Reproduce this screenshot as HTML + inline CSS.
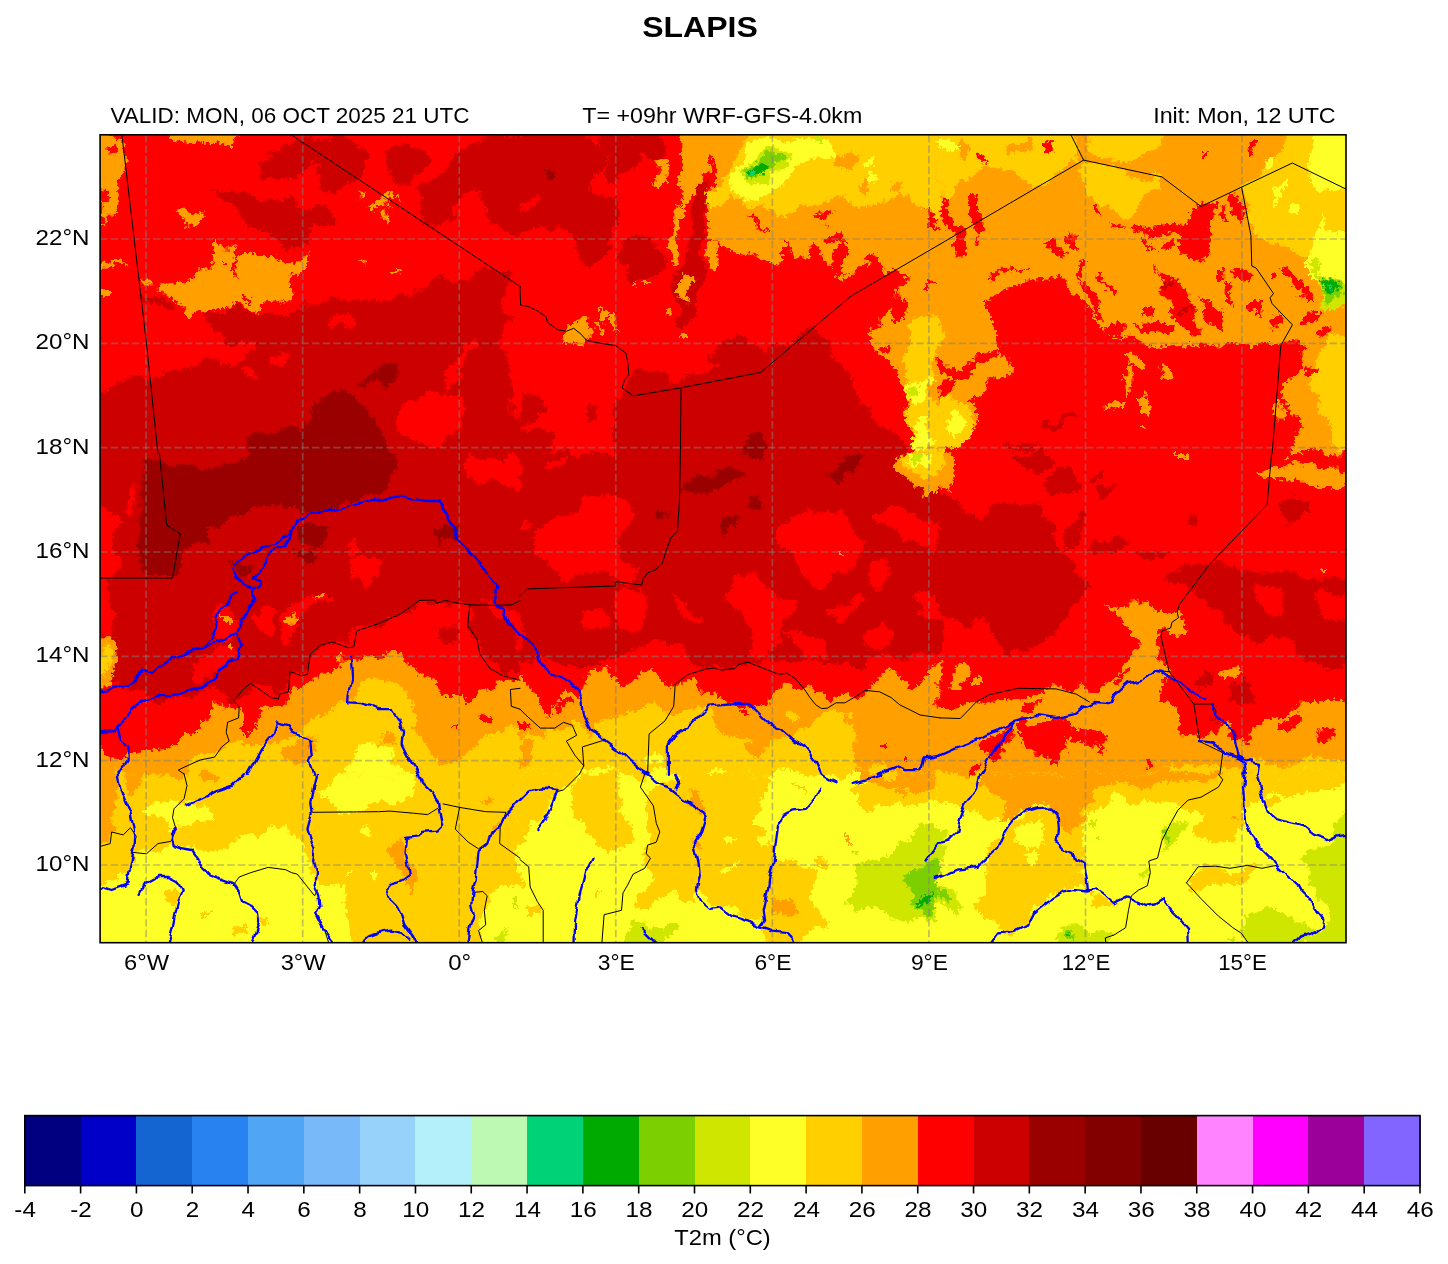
<!DOCTYPE html>
<html lang="en">
<head>
<meta charset="utf-8">
<title>SLAPIS - T2m forecast</title>
<style>
html,body{margin:0;padding:0;background:#fff;}
body{width:1448px;height:1264px;overflow:hidden;font-family:"Liberation Sans",sans-serif;}
svg{display:block;}
svg text{font-family:"Liberation Sans",sans-serif;fill:#000;}
</style>
</head>
<body>
<svg width="1448" height="1264" viewBox="0 0 1448 1264">
<rect x="0" y="0" width="1448" height="1264" fill="#ffffff"/>
<defs>
<filter id="rough" filterUnits="userSpaceOnUse" x="70" y="104" width="1306" height="869" color-interpolation-filters="sRGB">
<feTurbulence type="fractalNoise" baseFrequency="0.04" numOctaves="3" seed="7" result="n"/>
<feDisplacementMap in="SourceGraphic" in2="n" scale="24" xChannelSelector="R" yChannelSelector="G" result="d1"/>
<feTurbulence type="fractalNoise" baseFrequency="0.3" numOctaves="1" seed="11" result="n2"/>
<feDisplacementMap in="d1" in2="n2" scale="9" xChannelSelector="G" yChannelSelector="R"/>
</filter>
<filter id="wig" filterUnits="userSpaceOnUse" x="70" y="104" width="1306" height="869" color-interpolation-filters="sRGB">
<feTurbulence type="fractalNoise" baseFrequency="0.09" numOctaves="1" seed="5" result="n"/>
<feDisplacementMap in="SourceGraphic" in2="n" scale="8" xChannelSelector="R" yChannelSelector="G"/>
</filter>
<clipPath id="ax"><rect x="100.1" y="134.8" width="1245.9" height="807.9"/></clipPath></defs>

<g clip-path="url(#ax)">
<g filter="url(#rough)">
<rect x="70" y="104" width="1306" height="869" fill="#ff0000"/>
<clipPath id="t0"><rect x="79.7" y="113.7" width="440.6" height="340.6"/></clipPath>
<g clip-path="url(#t0)">
<path fill="#cd0000" d="M261 162L274 151L286 146L303 143L320 140L341 138L361 146L367 160L361 175L347 189L341 195L329 188L320 169L309 164L300 178L291 185L274 182L262 175ZM212 191L231 188L251 196L274 199L297 204L315 207L332 215L326 227L309 233L300 246L286 250L274 241L262 233L248 230L245 218L236 208L222 199ZM396 146L407 141L422 151L423 166L413 180L402 186L390 175L386 160ZM419 189L442 172L460 151L477 138L523 135L523 236L506 233L492 221L486 204L477 192L463 201L448 221L434 230L416 218L419 201ZM138 296L158 296L175 305L178 311L158 308L141 302ZM204 308L222 311L242 311L258 314L303 305L323 301L370 301L390 295L416 296L422 285L442 279L471 273L492 270L512 273L506 291L497 308L510 320L500 345L515 380L505 400L520 415L523 457L80 457L80 395L109 389L129 381L158 375L173 369L222 363L245 357L257 343L239 346L225 344L213 334L207 320Z"/>
<path fill="#ff0000" d="M271 354L286 350L290 357L280 365L272 362ZM245 363L254 362L256 372L249 378L244 372ZM329 323L341 320L361 320L358 324L332 329ZM402 404L416 395L436 392L457 395L465 412L463 430L448 444L425 447L407 439L396 424ZM442 375L465 349L474 334L477 343L457 375L442 389Z"/>
<path fill="#9b0000" d="M357 381L373 373L387 366L397 362L399 375L390 383L378 386L370 381L361 385ZM315 400L332 392L347 388L361 409L378 421L390 450L393 457L248 457L245 453L248 447L251 432L274 435L289 426L303 432L315 418Z"/>
<path fill="#ff9f00" d="M80 114L122 136L123 151L121 172L117 189L112 207L110 227L106 221L103 192L80 183ZM164 114L248 114L236 140L213 142L187 144L173 142ZM178 212L187 210L193 214L200 212L205 217L199 224L187 227L180 223ZM155 288L184 283L196 275L209 269L208 259L212 241L219 249L232 250L236 259L245 253L268 253L270 262L286 265L309 259L300 273L293 279L291 291L277 299L262 305L254 312L239 308L222 310L213 304L202 308L191 313L178 304L167 296ZM80 262L117 263L129 268L117 268L80 270ZM138 276L146 277L152 283L144 280ZM80 282L104 282L104 294L80 294ZM355 196L363 192L363 198ZM383 210L389 209L387 217ZM371 204L399 194L402 202L397 198L376 207ZM355 266L361 268L360 272ZM396 267L402 267L402 272L396 271Z"/>
<path fill="#ff0000" d="M108 143L117 141L118 151L112 152ZM222 262L225 262L225 267L222 267ZM233 262L240 259L241 273L236 270ZM216 304L223 304L223 309L216 309ZM244 300L252 300L252 305L244 305Z"/>
</g>
<clipPath id="t1"><rect x="519.7" y="113.7" width="420.6" height="340.6"/></clipPath>
<g clip-path="url(#t1)">
<path fill="#cd0000" d="M519 114L561 114L593 137L607 151L604 169L590 178L572 183L561 195L546 204L532 201L519 204ZM572 201L595 192L616 195L622 209L616 224L607 233L610 250L595 262L581 253L572 238L564 221ZM519 209L537 212L549 230L532 233L519 230ZM633 137L648 114L665 140L664 160L656 166L645 160L636 151ZM619 244L636 238L656 244L665 256L662 273L648 279L630 279L624 265ZM694 186L706 178L709 207L706 230L700 250L706 270L700 291L691 308L682 325L671 323L677 296L674 279L682 259L691 236L694 209ZM616 395L622 386L630 378L642 369L659 372L671 381L682 378L706 372L723 363L740 366L761 354L775 343L793 337L810 331L827 343L839 360L856 381L868 404L880 424L897 436L912 457L616 457ZM709 349L729 343L740 337L761 346L767 354L752 366L729 366L711 360ZM519 389L532 395L549 410L537 424L519 427ZM584 410L595 407L598 418L587 421ZM520 436L537 433L555 441L549 457L520 457ZM590 114L633 137L636 151L630 169L616 180L607 169L607 151ZM546 204L572 183L590 178L595 192L572 201L564 221L549 230L537 212Z"/>
<path fill="#9b0000" d="M743 439L761 436L769 441L769 457L743 457ZM546 169L555 169L555 178L546 178Z"/>
<path fill="#ff9f00" d="M685 114L943 114L943 457L912 457L914 436L912 412L909 389L897 375L883 363L874 349L868 337L874 320L885 308L897 296L906 279L897 270L885 270L874 262L865 267L854 270L848 279L839 270L825 262L810 256L793 259L775 262L761 250L746 256L729 250L711 244L711 230L713 215L709 201L711 186L713 160L709 157L701 178L694 192L682 209L674 209L678 201L682 178L687 157ZM674 209L682 212L680 230L677 250L671 270L668 259L672 236ZM682 270L694 273L691 291L685 305L682 291ZM662 305L668 308L666 320L662 317ZM706 247L714 244L717 259L711 270L707 262ZM656 163L665 160L666 178L659 180ZM569 323L587 320L590 334L581 343L571 337ZM601 308L607 308L607 320L601 320ZM610 311L614 311L616 331L610 328ZM595 325L600 323L601 337L596 337ZM684 330L691 330L691 336L684 336ZM630 280L636 280L636 285L630 285ZM648 282L655 282L655 286L648 286Z"/>
<path fill="#ff0000" d="M816 218L833 212L827 224L819 222ZM819 233L833 230L836 244L825 241ZM920 189L926 186L929 209L938 221L943 227L932 224L923 215L919 201ZM891 296L909 299L906 320L894 320ZM920 285L929 286L929 292L920 292ZM868 320L883 314L885 325L874 334ZM880 349L894 343L897 354L885 360ZM781 244L790 250L793 262L781 262ZM810 241L819 244L825 262L813 262ZM833 244L845 250L851 273L836 270ZM865 256L875 257L872 267L864 269ZM751 218L756 221L761 230L771 228L771 234L755 231Z"/>
<path fill="#ffcf00" d="M706 192L723 186L732 163L740 146L752 114L943 114L943 218L929 215L920 207L912 192L897 198L883 207L862 204L839 201L822 204L804 209L787 218L775 218L767 209L752 209L740 204L729 201L717 204L709 201ZM906 334L920 320L938 317L939 360L930 366L930 400L943 404L943 457L912 457L909 424L912 395L906 366Z"/>
<path fill="#ff9f00" d="M836 151L854 154L851 169L838 167ZM891 180L906 182L904 193L892 192ZM862 180L871 182L871 192L862 191Z"/>
<path fill="#ffff28" d="M730 186L736 166L743 151L752 140L769 135L790 135L810 140L839 143L836 151L816 157L798 166L781 180L769 192L758 198L743 201L732 198ZM862 160L871 157L874 166L865 169ZM909 383L920 378L929 386L926 401L914 404ZM912 424L926 418L932 436L920 453L912 447ZM868 172L877 175L875 183L868 182Z"/>
<path fill="#cfe700" d="M740 166L752 157L769 149L787 146L796 151L787 163L772 175L758 183L746 180ZM810 138L827 137L827 144L813 144ZM912 386L923 383L923 392L913 394Z"/>
<path fill="#7ccf00" d="M743 169L755 162L772 153L787 151L781 162L769 170L758 178L748 178Z"/>
<path fill="#00aa00" d="M746 169L761 164L769 166L767 173L752 177Z"/>
<path fill="#00d278" d="M749 169L752 169L752 176L749 175Z"/>
</g>
<clipPath id="t2"><rect x="939.7" y="113.7" width="460.6" height="340.6"/></clipPath>
<g clip-path="url(#t2)">
<path fill="#ff9f00" d="M939 114L1366 114L1366 457L1285 457L1291 441L1303 424L1297 421L1282 401L1285 383L1297 375L1305 360L1303 346L1279 343L1259 343L1242 346L1216 344L1187 343L1166 349L1143 343L1126 337L1102 334L1097 323L1091 308L1082 296L1071 282L1056 279L1036 282L1007 288L992 296L992 320L995 337L998 349L1010 366L998 381L981 389L969 401L978 412L975 433L957 444L939 441Z"/>
<path fill="#ff0000" d="M939 363L957 366L975 357L992 349L998 354L978 369L957 378L939 375ZM939 383L955 381L952 395L939 404ZM972 154L986 153L989 162L978 164ZM1040 143L1052 140L1053 151L1044 157ZM941 192L949 201L955 221L963 250L957 256L949 241L943 221ZM966 195L978 192L986 209L985 236L978 247L972 230L969 209ZM981 273L998 269L1033 265L1033 267L998 273L984 278ZM1047 241L1056 238L1062 256L1056 262L1050 250ZM1068 236L1076 233L1079 250L1073 251ZM1076 262L1082 263L1085 279L1079 276ZM1085 279L1091 282L1102 305L1108 317L1102 320L1094 305L1086 291ZM1094 270L1098 270L1111 296L1107 299ZM1114 221L1120 224L1126 233L1120 231ZM1088 207L1094 209L1097 221L1091 218ZM1129 230L1143 227L1172 224L1189 218L1201 207L1213 204L1216 221L1210 238L1207 253L1195 262L1187 259L1181 247L1178 236L1160 233L1143 234L1131 236ZM1143 241L1155 240L1156 249L1144 249ZM1163 241L1172 240L1173 250L1165 250ZM1230 196L1236 196L1242 218L1236 221L1231 209ZM1218 204L1223 204L1227 221L1223 221ZM1155 265L1163 270L1172 282L1181 291L1187 305L1178 308L1166 296L1158 282ZM1140 311L1155 314L1155 320L1140 317ZM1175 308L1187 305L1195 314L1198 334L1189 337L1181 325ZM1201 296L1213 299L1218 314L1224 331L1216 334L1207 320ZM1224 285L1230 285L1233 302L1227 302ZM1233 273L1242 270L1253 273L1245 282L1236 285ZM1247 305L1256 305L1258 314L1249 314ZM1268 320L1276 308L1282 314L1274 331ZM1282 266L1288 267L1305 291L1311 305L1305 305L1294 288ZM1271 273L1278 275L1276 282L1271 280ZM1303 320L1317 311L1329 311L1314 323L1304 325ZM1314 334L1326 328L1329 334L1317 340ZM1247 140L1255 140L1253 154L1249 154ZM1202 156L1207 156L1207 163L1202 163ZM1308 360L1317 363L1317 375L1310 375ZM1102 325L1114 320L1126 325L1120 334L1105 334ZM1131 325L1149 323L1172 323L1169 331L1143 334ZM1218 267L1224 267L1223 279L1218 279Z"/>
<path fill="#cd0000" d="M1160 279L1169 280L1168 288L1160 286ZM1184 308L1189 308L1189 315L1184 315ZM1042 427L1056 421L1076 410L1079 414L1062 424L1044 431ZM1007 444L1027 446L1044 449L1027 452L1007 449Z"/>
<path fill="#ffcf00" d="M939 114L1071 114L1079 151L1082 160L1065 169L1050 180L1033 183L1015 178L1004 166L984 169L969 178L957 178L952 192L946 202L939 204ZM1085 163L1102 166L1126 172L1143 178L1160 178L1149 192L1137 207L1126 215L1114 204L1102 209L1091 204L1085 186ZM1079 114L1160 114L1155 146L1143 157L1126 163L1108 160L1091 151ZM1242 189L1256 180L1271 163L1282 151L1294 114L1366 114L1366 273L1334 270L1317 262L1305 256L1288 250L1271 244L1256 238L1250 221ZM939 401L952 398L966 410L975 427L972 439L957 446L939 444ZM1326 337L1366 331L1366 457L1340 457L1329 424L1317 395L1314 372L1320 354Z"/>
<path fill="#ff9f00" d="M1126 354L1131 352L1143 366L1140 375L1129 366ZM1126 372L1130 372L1131 395L1127 395ZM1140 392L1149 389L1146 410L1140 412ZM1102 412L1114 407L1126 405L1120 415L1105 420ZM1163 369L1169 367L1172 378L1165 381ZM1133 427L1143 424L1140 431ZM1274 404L1279 401L1285 412L1276 421ZM952 143L966 140L969 151L957 157ZM1007 140L1027 137L1030 149L1013 154Z"/>
<path fill="#ff0000" d="M1040 143L1052 140L1053 151L1044 157ZM972 154L986 153L989 162L978 164Z"/>
<path fill="#ffff28" d="M1313 114L1366 114L1366 285L1340 296L1329 302L1317 296L1308 279L1303 262L1311 250L1317 230L1320 209L1314 192L1308 172ZM1268 160L1276 157L1276 172L1268 175ZM1274 186L1285 180L1285 198L1274 207ZM1294 207L1303 204L1303 215L1294 217ZM946 410L957 412L963 424L955 430L946 424ZM939 140L952 138L955 149L943 151L939 150Z"/>
<path fill="#ffcf00" d="M1317 192L1366 189L1366 227L1329 230L1318 215Z"/>
<path fill="#cfe700" d="M1308 259L1317 256L1320 270L1314 276L1326 279L1340 288L1366 285L1366 305L1329 305L1314 296L1313 279Z"/>
<path fill="#7ccf00" d="M1316 282L1323 279L1334 285L1337 296L1329 301L1317 295Z"/>
<path fill="#00aa00" d="M1317 283L1329 282L1333 292L1327 296L1318 292Z"/>
<path fill="#00d278" d="M1326 287L1329 288L1329 292L1326 291Z"/>
</g>
<clipPath id="t3"><rect x="79.7" y="453.7" width="440.6" height="320.6"/></clipPath>
<g clip-path="url(#t3)">
<path fill="#cd0000" d="M80 453L523 453L523 608L506 605L486 605L468 608L448 602L419 602L402 614L378 625L355 631L349 645L332 643L312 654L303 674L289 674L286 692L271 698L257 686L251 686L239 695L228 701L216 686L199 692L173 698L146 698L129 686L117 680L80 674L80 640L112 634L109 616L115 593L106 582L117 564L112 541L120 524L109 509L80 509ZM468 608L486 606L506 616L512 640L523 657L523 674L506 674L492 666L480 645L471 628ZM442 628L460 631L457 643L442 640Z"/>
<path fill="#ff0000" d="M349 558L367 556L381 561L376 576L370 590L358 585L349 570ZM303 599L320 593L332 593L315 608L300 619L286 640L274 640L283 622ZM216 611L228 605L236 611L239 628L228 640L216 634ZM257 611L268 608L280 616L268 634L257 628ZM349 541L358 541L358 553L349 553ZM463 460L477 457L523 457L523 495L500 483L477 486L465 474ZM129 489L138 486L141 512L132 515ZM202 657L222 645L236 640L239 657L225 663L210 674L196 680Z"/>
<path fill="#9b0000" d="M242 453L393 453L393 471L390 486L378 495L361 500L338 503L320 509L303 512L286 506L262 509L245 515L228 521L213 527L204 541L187 550L181 564L178 576L158 576L141 570L135 553L138 529L144 512L146 483L144 458L187 470L216 470L239 458ZM300 524L318 521L329 529L323 544L309 547L300 538ZM233 564L245 561L251 570L242 582L235 576ZM434 527L448 524L457 535L451 544L436 541ZM291 553L315 550L318 561L303 564Z"/>
<path fill="#ff9f00" d="M80 640L109 637L115 651L117 669L109 683L80 686ZM80 744L106 747L112 761L129 756L138 756L155 747L170 744L184 732L196 730L207 721L216 709L228 703L239 706L245 715L245 730L257 730L262 715L274 706L286 703L300 692L315 680L329 669L341 657L355 654L378 651L396 654L410 663L422 674L434 683L442 695L457 695L468 701L483 692L489 683L500 680L512 677L523 677L523 777L80 777ZM312 596L320 595L320 599L313 600ZM289 621L297 616L299 621L291 625ZM225 616L231 616L231 624L225 624ZM232 640L236 640L236 645L232 645Z"/>
<path fill="#ff0000" d="M483 715L494 712L497 718L486 721ZM454 725L458 725L458 728L454 728Z"/>
<path fill="#ffcf00" d="M80 654L106 651L112 666L104 677L80 677ZM178 777L196 761L216 756L228 744L239 738L254 744L268 741L280 732L297 730L309 724L326 715L338 706L355 701L361 686L373 680L390 683L405 695L413 706L416 721L419 738L428 750L448 761L465 759L477 744L489 732L506 730L520 732L523 777Z"/>
<path fill="#ff9f00" d="M280 744L303 738L315 744L303 761L286 761ZM378 732L390 730L393 744L381 747Z"/>
<path fill="#ffff28" d="M347 777L352 761L361 747L376 744L390 756L402 764L407 777Z"/>
</g>
<clipPath id="t4"><rect x="519.7" y="453.7" width="420.6" height="320.6"/></clipPath>
<g clip-path="url(#t4)">
<path fill="#cd0000" d="M519 453L943 453L943 654L920 657L897 654L868 657L851 666L833 663L810 657L787 663L769 654L752 657L740 663L723 669L694 663L674 645L659 640L642 651L616 657L578 666L564 669L537 663L519 657Z"/>
<path fill="#ff0000" d="M537 535L549 521L572 512L587 498L607 492L624 498L633 512L627 529L616 541L619 558L630 564L642 570L636 582L616 582L593 570L578 576L564 582L549 570L540 553ZM616 587L642 587L645 605L639 628L630 634L619 628L613 611ZM578 608L595 605L607 616L601 634L587 628ZM778 529L793 515L810 509L833 512L851 524L865 538L862 553L854 564L845 576L827 585L810 582L798 567L790 553L781 541ZM735 576L752 573L767 582L775 596L793 599L796 616L781 628L775 643L767 654L752 651L746 634L746 616L735 605L723 599L729 587ZM674 593L685 599L694 611L706 616L700 625L685 616L677 608ZM781 631L798 634L822 643L833 657L810 654L793 645ZM827 616L845 605L862 590L868 596L851 611L836 622ZM868 564L885 561L891 576L880 585L868 579ZM874 512L891 506L909 512L926 521L940 527L943 550L926 547L906 541L891 529L877 524ZM862 634L880 628L897 640L883 651L868 648ZM917 593L932 590L940 599L940 616L926 622L917 611ZM520 521L535 518L532 529L520 532ZM546 463L566 460L569 466L549 469Z"/>
<path fill="#9b0000" d="M682 486L700 474L717 466L735 469L749 474L743 483L723 486L706 492L691 498L681 495ZM749 498L761 495L764 509L752 512ZM717 524L729 518L738 518L735 527L723 529L720 538L714 535ZM825 471L839 463L851 457L859 460L856 471L845 474L830 479ZM656 512L668 509L669 518L659 519Z"/>
<path fill="#ff9f00" d="M900 453L943 453L943 498L926 498L912 489L903 477L897 466ZM842 557L846 557L846 561L842 561ZM519 677L529 683L537 695L540 709L549 715L555 706L561 698L566 689L578 695L582 692L581 672L593 669L613 670L616 686L630 683L645 672L656 667L665 677L671 689L677 686L694 683L700 695L717 701L740 698L752 706L767 706L772 695L781 686L798 689L810 686L827 698L839 695L848 692L856 701L868 698L880 680L891 674L903 677L909 686L920 683L932 669L943 663L943 777L519 777Z"/>
<path fill="#ff0000" d="M558 701L572 698L575 706L561 709ZM520 724L526 722L527 732L520 734ZM883 747L888 747L888 753L883 753ZM903 756L909 756L909 761L903 761ZM743 706L749 706L749 712L743 712Z"/>
<path fill="#ffcf00" d="M903 453L940 453L940 471L926 483L912 471ZM519 741L532 740L549 732L564 724L578 724L590 732L595 724L607 715L624 709L642 709L659 706L671 712L682 709L694 706L706 715L717 724L735 732L752 741L758 750L772 744L787 741L798 732L810 727L827 715L848 715L851 732L854 756L859 773L859 777L519 777ZM868 770L885 764L897 769L897 777L868 777ZM782 706L791 709L791 718L782 715Z"/>
<path fill="#ff9f00" d="M520 744L532 744L532 767L520 770ZM740 741L758 744L761 756L746 753Z"/>
<path fill="#ffff28" d="M909 453L932 453L926 466L912 466ZM648 756L659 753L665 761L656 767L649 764ZM578 770L595 767L616 774L616 777L578 777ZM706 770L723 767L729 777L706 777Z"/>
<path fill="#cfe700" d="M913 454L923 454L922 463L914 463Z"/>
</g>
<clipPath id="t5"><rect x="939.7" y="453.7" width="460.6" height="320.6"/></clipPath>
<g clip-path="url(#t5)">
<path fill="#cd0000" d="M939 492L952 498L963 512L984 515L998 506L1018 503L1039 509L1053 521L1050 538L1059 550L1068 558L1076 570L1082 585L1076 605L1068 622L1050 637L1027 651L1007 654L1004 640L989 628L969 622L952 616L939 611ZM1042 480L1056 471L1071 469L1076 480L1068 492L1053 495L1044 489ZM1018 454L1042 454L1056 460L1039 469L1024 466ZM1085 480L1102 469L1108 474L1091 489ZM1091 492L1114 483L1117 489L1097 500ZM1065 532L1076 521L1082 512L1088 518L1082 535L1073 550L1065 550ZM1097 541L1114 537L1129 541L1120 553L1102 556L1091 553ZM940 474L952 471L957 483L946 489L940 486ZM1158 582L1172 570L1195 564L1218 561L1242 567L1265 570L1288 573L1317 579L1366 582L1366 663L1329 669L1314 657L1297 654L1282 643L1259 640L1242 628L1224 625L1218 611L1201 599L1187 590L1169 587ZM1276 503L1291 498L1308 503L1311 515L1300 521L1285 519L1276 512ZM1137 553L1160 550L1169 556L1149 561ZM1187 515L1195 513L1197 527L1189 527ZM1230 686L1247 683L1259 692L1256 706L1242 709L1230 701ZM1198 677L1216 677L1216 686L1198 686ZM1207 709L1216 709L1216 724L1207 724Z"/>
<path fill="#ff0000" d="M1250 590L1268 587L1282 593L1288 611L1279 616L1265 611L1253 602ZM1314 593L1366 596L1366 616L1329 619L1317 611Z"/>
<path fill="#ff9f00" d="M939 454L949 454L955 471L952 489L939 492ZM1256 469L1276 463L1303 466L1326 471L1366 469L1366 489L1329 489L1311 483L1288 477L1271 480L1259 477ZM939 706L957 709L975 703L998 701L1021 703L1027 695L1039 689L1056 683L1076 689L1088 695L1097 686L1111 674L1123 660L1137 654L1140 640L1126 625L1114 611L1102 602L1120 605L1143 602L1155 611L1172 611L1181 616L1187 634L1172 637L1160 634L1155 643L1160 657L1169 672L1166 686L1172 701L1178 715L1181 730L1195 738L1216 732L1227 721L1242 732L1253 738L1256 724L1274 715L1288 706L1305 701L1329 701L1366 701L1366 777L939 777ZM949 677L960 669L969 677L960 686L952 686ZM978 674L984 674L984 680L978 680ZM1218 672L1230 666L1239 674L1227 680ZM1323 566L1329 566L1329 571L1323 571ZM1172 454L1181 454L1181 457L1172 457Z"/>
<path fill="#ff0000" d="M1018 724L1039 718L1056 718L1068 724L1076 730L1097 732L1108 741L1102 750L1085 744L1068 747L1056 756L1039 753L1024 747L1018 735ZM978 744L995 735L1013 730L1010 741L998 756L984 761ZM1027 703L1042 695L1036 709L1027 715ZM1178 706L1192 703L1213 706L1216 721L1201 724L1198 738L1184 732ZM1230 715L1247 715L1253 732L1239 735L1230 727ZM1282 715L1297 709L1303 718L1288 730L1276 730ZM969 764L978 766L975 773L968 772ZM1140 764L1146 763L1147 770L1142 770ZM1317 732L1329 730L1332 738L1320 741ZM1114 674L1126 666L1131 669L1120 680ZM1160 677L1166 677L1169 695L1163 695Z"/>
<path fill="#ffcf00" d="M1163 777L1172 767L1195 766L1218 767L1242 764L1259 761L1282 767L1303 766L1326 761L1366 761L1366 777Z"/>
</g>
<clipPath id="t6"><rect x="79.7" y="773.7" width="440.6" height="360.6"/></clipPath>
<g clip-path="url(#t6)">
<path fill="#ffcf00" d="M80 773L523 773L523 963L80 963Z"/>
<path fill="#ff9f00" d="M80 773L117 773L115 791L117 809L112 826L106 841L80 844ZM126 773L144 773L141 786L132 794L128 786ZM158 773L181 773L178 780L162 781ZM196 773L216 773L215 780L199 780ZM390 844L402 836L407 844L405 858L413 870L416 884L405 890L402 876L393 861L387 852ZM489 823L500 820L497 832L489 835ZM483 800L492 800L494 806L486 807Z"/>
<path fill="#ffff28" d="M152 803L167 799L175 803L184 806L196 803L210 807L216 815L202 820L187 832L178 829L173 823L158 820L149 812ZM80 890L117 886L129 867L132 852L146 854L152 847L170 842L175 847L193 849L216 852L228 847L239 838L257 832L274 826L291 832L303 841L309 855L315 870L320 890L332 890L344 884L347 902L349 925L352 963L80 963ZM320 791L332 783L341 773L416 773L419 786L416 797L407 803L390 806L378 803L361 807L347 809L332 803ZM361 826L370 823L371 832L362 833ZM344 870L349 870L349 876L344 876ZM370 870L376 867L378 878L371 886ZM480 905L489 896L506 890L523 887L523 963L486 963L483 925Z"/>
<path fill="#ffcf00" d="M161 887L175 884L181 896L175 910L167 905ZM202 906L210 906L210 912L202 912ZM257 916L268 919L271 928L260 929ZM239 923L248 923L248 931L239 931Z"/>
<path fill="#cfe700" d="M497 931L506 929L509 963L496 963ZM512 900L516 900L516 905L512 905Z"/>
</g>
<clipPath id="t7"><rect x="519.7" y="773.7" width="420.6" height="360.6"/></clipPath>
<g clip-path="url(#t7)">
<path fill="#ffff28" d="M519 773L943 773L943 963L519 963Z"/>
<path fill="#ffcf00" d="M519 773L578 773L572 783L561 791L549 800L537 818L529 832L519 838ZM572 786L584 773L616 773L619 791L624 809L630 826L627 844L616 849L601 847L590 832L578 815L572 800ZM645 791L656 786L677 783L682 773L767 773L767 791L761 812L752 823L764 838L775 847L772 864L769 890L767 913L761 925L746 919L729 910L709 905L700 890L694 902L682 893L665 899L648 910L636 902L642 890L656 881L651 870L645 858L648 847L645 832L648 818L645 803ZM772 864L810 867L813 884L810 899L822 910L830 919L822 931L804 936L793 963L772 963L767 925L769 890ZM854 786L868 780L885 773L943 773L943 806L926 803L912 800L897 806L880 803L874 815L859 812L856 797ZM796 789L803 789L803 793L796 793ZM816 858L825 858L827 870L817 870ZM529 907L540 907L540 916L529 916ZM595 890L601 890L601 897L595 897Z"/>
<path fill="#ff9f00" d="M685 791L697 794L706 809L709 818L700 812L691 803ZM694 832L701 838L703 852L697 849ZM772 899L781 896L790 902L793 913L784 919L775 913ZM845 832L851 832L851 841L845 841ZM897 789L906 789L906 792L897 792ZM848 773L943 773L943 789L920 791L897 786L868 783L854 777Z"/>
<path fill="#cfe700" d="M624 936L636 925L651 926L659 922L677 922L680 931L665 936L659 963L624 963ZM848 887L856 873L874 861L894 858L897 844L912 841L920 826L932 823L943 832L943 919L920 916L909 919L894 922L877 913L862 910L848 902ZM854 848L862 849L862 855L854 855Z"/>
<path fill="#ffff28" d="M723 841L738 835L735 844L726 849ZM720 867L740 865L740 871L720 873Z"/>
<path fill="#7ccf00" d="M900 884L912 873L923 861L935 858L943 861L943 910L926 913L914 905L909 893Z"/>
<path fill="#00aa00" d="M914 899L926 893L935 894L932 905L920 907Z"/>
</g>
<clipPath id="t8"><rect x="939.7" y="773.7" width="460.6" height="360.6"/></clipPath>
<g clip-path="url(#t8)">
<path fill="#ffff28" d="M939 773L1366 773L1366 963L939 963Z"/>
<path fill="#ffcf00" d="M939 773L1366 773L1366 786L1317 789L1294 794L1274 791L1259 797L1247 818L1242 832L1224 841L1207 844L1195 832L1198 820L1181 809L1166 800L1143 803L1126 797L1102 806L1085 809L1056 806L1027 806L1004 812L981 818L963 806L939 809ZM989 858L1007 829L1027 812L1056 809L1085 809L1084 832L1085 858L1079 870L1085 890L1068 890L1050 896L1036 907L1027 925L1010 931L998 925L984 922L975 905L986 890L989 873ZM1189 873L1201 867L1230 870L1253 867L1250 878L1230 884L1213 890L1195 887ZM1088 896L1102 893L1114 902L1102 910L1091 907ZM1268 797L1276 797L1276 806L1268 806Z"/>
<path fill="#ff9f00" d="M978 773L1230 773L1201 780L1172 783L1143 789L1126 786L1102 791L1085 803L1079 826L1068 835L1062 820L1053 809L1036 807L1021 812L1010 820L998 818L1007 803L995 791L981 786ZM1236 820L1243 820L1243 822L1236 822Z"/>
<path fill="#cfe700" d="M939 844L946 847L944 861L939 861ZM939 878L949 884L957 896L963 907L957 913L946 910L939 905ZM1163 835L1172 823L1181 818L1189 820L1184 832L1172 844L1166 852L1158 855L1159 844ZM1088 818L1094 818L1095 826L1088 826ZM1097 832L1101 832L1101 838L1097 838ZM1053 936L1062 925L1076 923L1091 931L1102 932L1114 936L1114 963L1053 963ZM1366 806L1340 815L1334 832L1329 844L1311 847L1303 858L1308 870L1314 890L1326 910L1326 925L1311 936L1294 963L1366 963ZM1242 925L1256 916L1274 910L1288 913L1303 922L1314 931L1300 963L1247 963ZM1137 870L1149 867L1149 876L1140 878ZM1224 931L1233 931L1233 936L1224 936Z"/>
<path fill="#ffff28" d="M1018 826L1036 820L1047 832L1039 844L1024 847L1013 841ZM1027 852L1039 849L1042 861L1030 864Z"/>
<path fill="#7ccf00" d="M939 887L946 890L952 899L946 905L939 902ZM1062 932L1071 929L1079 934L1076 942L1065 941ZM1165 836L1171 832L1172 839L1166 844Z"/>
<path fill="#00aa00" d="M1066 934L1072 932L1075 938L1069 940Z"/>
</g>
</g></g>
<g clip-path="url(#ax)" stroke="#808080" stroke-opacity="0.5" stroke-width="1.7" stroke-dasharray="7.4,3.2" fill="none">
<path d="M146.1 134.8V942.7"/>
<path d="M302.7 134.8V942.7"/>
<path d="M459.2 134.8V942.7"/>
<path d="M615.8 134.8V942.7"/>
<path d="M772.4 134.8V942.7"/>
<path d="M928.9 134.8V942.7"/>
<path d="M1085.5 134.8V942.7"/>
<path d="M1242.0 134.8V942.7"/>
<path d="M100.1 239.0H1346.0"/>
<path d="M100.1 343.3H1346.0"/>
<path d="M100.1 447.7H1346.0"/>
<path d="M100.1 552.0H1346.0"/>
<path d="M100.1 656.4H1346.0"/>
<path d="M100.1 760.7H1346.0"/>
<path d="M100.1 865.0H1346.0"/>
</g>
<g clip-path="url(#ax)" fill="none" stroke-linejoin="round" stroke-linecap="round">
<path stroke="#000" stroke-width="1" d="M121.8 134.0L146.4 342.8L158.0 453.9M290.0 134.0L520.0 286.3M159.5 454.0L166.7 525.1L180.3 533.8L172.5 578.1L100.0 578.1M520.0 600.5L511.8 604.8L494.4 605.4L469.8 604.8L459.6 603.4L445.1 600.5L436.4 603.4L435.0 599.9L419.0 600.5L401.6 613.5L378.4 623.7L356.7 630.9L353.8 646.9L348.0 647.7L332.0 641.9L320.4 645.4L310.3 654.1L307.4 674.4L301.6 675.9L290.0 671.5L288.5 691.8L279.8 694.1L278.4 699.1L271.1 697.6L261.0 690.4L252.3 684.6L250.8 683.1L245.0 687.5L236.3 697.6L233.4 700.5L239.2 706.3L238.6 717.9L227.6 722.3L226.2 732.4L229.1 741.1L221.8 746.9L214.6 757.1L200.1 760.0L184.1 767.2L178.3 770.1L184.1 773.9M469.8 604.8L467.7 625.1L477.0 639.6L479.9 654.1L490.1 668.6L503.1 675.9L520.0 680.2M520.0 688.3L510.4 689.5L511.3 706.3L520.0 709.2M520.0 286.3L520.6 305.1L528.7 306.6L537.4 310.9L546.1 316.7L547.6 322.5L557.7 329.8L566.4 331.2L573.7 328.3L580.9 334.1L586.7 340.5L601.2 343.4L615.7 345.7L625.9 353.0L627.9 363.1L628.8 374.7L624.4 380.5L622.1 387.8L633.1 395.9L681.0 387.8L760.7 372.4L850.6 296.4L940.0 244.2M681.0 387.8L680.4 453.9M940.0 244.2L1083.6 160.1L1070.5 134.0M1083.6 160.1L1161.9 176.9L1201.0 206.5L1241.6 187.1L1292.4 163.0L1346.0 189.1M1241.6 187.1L1250.9 235.5L1251.8 266.0L1256.1 268.0L1273.5 293.5L1270.0 297.9L1272.1 303.7L1292.4 324.8L1280.8 345.7L1272.1 453.9M680.4 454.0L679.5 499.0L677.5 530.9L670.8 538.1L666.5 549.7L662.1 564.2L654.9 570.0L647.6 572.9L643.3 578.7L641.8 585.1L615.7 581.6L615.7 586.0L527.3 588.9L520.0 596.1M675.2 684.6L676.6 683.1L688.2 674.4L705.6 669.2L714.3 668.0L720.1 670.1L734.6 668.6L739.0 664.3L747.7 662.2L760.7 667.2L775.2 673.0L781.0 674.4L786.8 673.0L795.5 678.8L804.2 688.9L810.0 697.6L815.8 704.9L821.6 708.6L827.4 708.1L836.1 702.8L844.8 702.8L856.4 696.2L865.1 690.4L879.6 691.8L891.2 697.6L899.9 704.9L908.6 709.2L920.2 715.0L940.0 717.9M675.2 684.6L673.7 706.3L665.0 720.8L649.1 733.9L647.6 773.9M520.0 709.2L525.8 715.0L540.3 728.1L554.8 728.1L563.5 722.3L572.2 725.2L576.6 735.3L566.4 741.1L575.1 755.6L583.8 765.8L579.5 773.9M583.8 765.8L582.4 746.9L605.6 739.7M1271.5 454.0L1267.1 504.8L1209.7 564.2L1179.3 604.8L1177.2 612.1L1178.4 617.9L1172.0 622.2L1170.6 628.0L1161.9 630.9L1161.0 636.7L1169.1 671.5L1193.8 704.0L1199.6 739.7L1199.0 741.1L1222.8 752.7L1219.9 773.9M1154.6 670.9L1169.1 671.5M1193.8 704.0L1212.6 704.0L1216.1 712.1M940.0 717.9L960.3 718.5L976.3 702.0L989.3 694.7L1018.3 688.3L1056.0 688.9L1076.3 694.1L1089.4 702.0M184.1 774.0L187.0 785.6L184.1 798.7L174.0 808.8L172.5 817.5L176.0 829.1L171.1 841.3L158.0 843.6L146.4 853.8L131.9 852.3L136.3 836.4L130.5 827.7L123.2 834.9L111.6 832.0L110.2 843.6L100.0 846.5M234.9 882.8L239.2 877.0L250.8 872.6L268.2 867.4L285.6 869.7L291.4 872.6L297.2 874.1L303.0 881.3L314.6 895.8L317.5 890.0M324.8 930.6L329.1 944.0M312.6 812.3L378.4 811.7L390.0 811.1L413.2 813.2L427.7 814.6L437.9 808.2M443.1 803.9L459.6 807.4L485.7 811.7L506.0 812.3L500.2 827.7L499.7 843.6L520.0 858.1M459.6 807.4L455.3 829.1L468.3 842.2L478.5 848.8L485.7 843.6M474.1 892.3L482.8 891.5L487.2 895.8L484.3 910.3L485.7 924.8L478.5 930.6L482.8 944.0M579.5 774.0L563.5 790.0L557.7 791.4M520.0 859.6L528.7 866.8L530.2 887.1L537.4 901.6L543.2 910.3L543.2 944.0M644.7 774.0L640.4 787.1L653.4 805.9L656.3 823.3L659.8 832.0L656.3 842.2L647.6 845.1L646.2 853.8L650.5 858.1L644.7 868.3L633.1 874.1L627.3 885.7L623.0 892.9L621.5 910.3L604.1 914.7L601.8 944.0M1218.4 774.0L1222.8 779.8L1218.4 787.1L1201.0 797.2L1188.0 800.1L1177.8 810.3L1169.1 826.2L1161.9 840.7L1157.5 858.1L1148.8 861.0L1150.3 872.6L1147.4 885.7L1138.7 890.0L1131.4 895.8L1128.5 910.3L1125.6 927.7L1114.0 935.0L1105.3 937.9L1105.9 944.0M1186.5 882.8L1198.1 866.8L1215.5 866.2L1230.0 868.3L1247.4 865.4L1261.9 868.3L1276.4 865.4M1186.5 882.8L1201.0 898.7L1218.4 916.1L1232.9 927.7L1241.6 933.5L1248.9 944.0"/>
<g filter="url(#wig)">
<path stroke="#0000ff" stroke-width="2.3" d="M100.0 690.4L117.4 687.5L131.9 681.7L143.5 670.1L150.8 673.0L162.4 665.7L174.0 658.5L187.0 654.1L195.7 648.9L204.4 646.0L216.0 642.5L224.7 641.1L232.0 635.3L238.6 632.4L242.1 620.8L247.9 612.1L252.3 606.3L255.2 597.6L252.3 588.9L258.1 586.0L259.5 581.6L253.7 578.7L258.1 571.5L262.4 568.6L266.8 558.4L274.0 549.7L285.6 545.4L290.0 538.1L292.9 532.3L298.7 519.3L308.8 514.9L323.3 512.0L337.8 509.1L352.3 505.6L369.7 500.4L384.2 499.0L400.2 496.1L407.4 499.0L419.0 499.8L427.7 501.0L439.3 501.0L443.7 509.1L448.0 519.3L453.8 528.0L458.2 539.6L466.9 551.2L475.6 558.4L485.7 570.0L490.1 577.3L498.8 586.0L494.4 596.1L495.0 604.8L503.1 609.2L508.9 622.2L520.0 635.3M100.0 732.4L114.5 731.0L117.4 725.2L129.0 717.9L130.5 709.2L143.5 700.5L158.0 696.2L172.5 696.2L187.0 690.4L201.5 687.5L213.1 680.2L221.8 670.1L226.2 659.9L237.8 657.0L242.7 645.4L239.2 638.2L238.6 632.4M252.3 588.9L245.0 586.0L236.3 578.7L232.8 570.0L236.3 562.8L242.1 557.0L253.7 552.6L262.4 546.8L274.0 545.4L282.7 538.1L288.5 535.2L291.4 531.7M117.4 725.2L120.3 738.2L127.6 748.4L127.6 758.5L121.8 767.2L118.0 773.9M237.8 591.8L229.1 599.0L219.5 609.2L217.5 616.4L216.0 628.0L211.7 636.7L204.4 645.4M350.9 657.0L352.3 680.2L348.8 694.7L348.0 703.4L361.0 704.0L378.4 709.2L392.9 709.2L400.2 720.8L403.1 732.4L401.6 744.0L407.4 755.6L419.0 773.9M247.9 773.9L262.4 746.9L274.0 732.4L276.9 722.3L288.5 725.2L292.9 732.4L303.0 738.2L310.3 741.1L311.7 755.6L308.8 761.4L313.2 773.9M520.0 635.3L531.6 642.5L538.9 654.1L540.3 662.8L551.9 674.4L563.5 678.8L578.0 688.9L582.4 700.5L583.8 715.0L591.1 729.5L598.3 733.9L607.0 741.1L618.6 749.8L630.2 761.4L641.8 770.1L647.6 773.9M667.9 773.9L667.9 744.0L673.7 735.3L688.2 726.6L699.8 715.0L708.5 705.7L728.8 703.4L746.2 702.8L752.0 706.3L760.7 715.0L769.4 723.7L781.0 729.5L792.6 739.7L804.2 746.9L815.8 761.4L821.6 773.9M876.7 773.9L885.4 770.1L897.0 765.8L905.7 770.1L920.2 770.1L923.1 758.5L940.0 755.6M940.0 755.6L954.5 749.2L969.0 744.0L983.5 735.3L998.0 731.0L1015.4 720.8L1035.7 715.0L1056.0 717.9L1076.3 713.6L1085.0 706.3L1093.7 702.0L1111.1 703.4L1114.0 696.2L1128.5 683.1L1143.0 679.6L1154.6 671.5L1163.3 673.0L1177.8 683.1L1192.3 691.8L1205.4 699.1M979.4 773.9L991.9 754.5L1002.4 739.7L1009.6 729.5L1016.0 720.8M1212.6 704.0L1217.0 716.5L1227.1 723.7L1232.9 729.5L1235.8 744.0L1238.7 755.6L1246.0 758.5L1251.8 757.1L1259.0 767.2L1257.6 773.9M1199.0 741.1L1212.6 742.6L1224.2 752.7L1238.7 757.1L1244.5 761.4L1246.0 773.9M117.4 774.0L120.3 788.5L130.5 811.7L132.5 823.3L135.4 836.4L134.2 849.4L130.5 863.9L127.6 884.2L111.6 890.0L102.9 887.1L100.0 890.0M245.0 774.0L233.4 785.6L216.0 791.4L201.5 798.7L187.0 805.3M176.9 829.1L171.9 836.4L172.5 845.1L179.8 848.0L191.4 850.0L197.2 858.1L201.5 866.8L210.2 875.5L221.8 879.9L233.4 884.2L239.2 892.9L242.1 901.6L250.8 906.0L258.1 913.2L259.5 923.4L256.6 932.1L252.3 944.0M140.6 892.9L145.0 884.2L158.0 877.0L169.6 877.0L178.3 881.3L182.7 890.0L178.3 901.6L175.4 913.2L172.5 927.7L168.2 944.0M316.1 774.0L313.2 785.6L310.3 803.0L311.7 813.2L307.4 829.1L311.7 842.2L314.6 849.4L313.2 861.0L316.1 872.6L314.6 884.2L319.0 895.8L320.4 904.5L316.1 913.2L320.4 921.9L326.2 932.1L334.9 944.0M419.0 774.0L421.9 782.7L430.6 791.4L437.9 801.6L439.3 811.7L442.2 824.8L436.4 830.6L421.9 832.0L419.0 836.4L406.0 837.8L404.5 852.3L407.4 866.8L408.9 875.5L401.6 880.7L390.0 883.6L387.1 890.0L390.0 898.7L395.8 904.5L401.6 916.1L404.5 924.8L413.2 936.4L416.1 944.0M361.0 944.0L369.7 936.4L381.3 932.1L390.0 930.6L401.6 932.9L410.3 940.8M520.0 798.7L511.8 808.8L506.0 814.6L501.7 823.3L491.5 832.0L487.2 843.6L478.5 852.3L477.0 866.8L475.6 881.3L472.7 890.0L471.2 904.5L474.1 916.1L469.8 927.7L466.9 944.0M520.0 800.1L528.7 791.4L541.8 788.5L557.7 790.0L551.9 805.9L544.7 819.0L537.4 829.1M644.7 774.0L656.3 782.7L670.8 788.5L678.1 794.3L688.2 801.6L696.9 805.9L705.6 817.5L701.3 832.0L694.0 843.6L698.4 861.0L699.8 875.5L696.9 890.0L701.3 901.6L710.0 908.9L720.1 907.4L731.7 916.1L749.1 921.9L760.7 926.3L765.1 920.5L763.6 910.3L768.0 890.0L769.4 875.5L773.8 861.0L775.2 846.5L778.1 826.2L783.9 814.6L792.6 810.3L807.1 808.8L814.4 800.1L820.2 787.9M675.2 774.0L679.5 782.7L676.6 788.5M760.7 926.3L772.3 930.6L786.8 932.1L792.6 937.9L795.5 944.0M592.5 858.7L585.3 872.6L580.9 890.0L578.0 904.5L575.1 919.0L574.5 944.0M641.8 929.2L649.1 936.4L654.9 942.2M821.6 774.0L828.9 778.4L835.5 781.3M850.6 784.2L862.2 781.3L876.7 776.9L882.5 774.0M924.6 862.5L931.8 852.3L940.0 842.2M934.7 877.8L940.0 875.5M979.2 774.0L976.3 788.5L966.1 803.0L960.3 817.5L957.4 832.0L948.7 840.7L940.0 843.0M940.0 877.0L957.4 869.7L977.7 866.8L986.4 858.1L998.0 848.0L1005.3 832.0L1012.5 820.4L1024.1 811.7L1038.6 808.2L1050.2 807.4L1057.5 814.6L1058.9 829.1L1057.5 842.2L1064.7 850.0L1073.4 852.9L1076.3 859.6L1083.6 863.9L1086.5 877.0L1087.9 890.0M990.8 944.0L998.0 933.5L1015.4 930.6L1027.0 924.8L1032.8 913.2L1047.3 901.6L1061.8 892.9L1073.4 890.0L1087.9 891.5L1096.6 889.4L1103.9 894.4L1114.0 903.1L1125.6 897.3L1137.2 901.6L1145.9 906.0L1154.6 904.5L1163.3 899.3L1169.1 907.4L1180.7 919.0L1188.0 927.7L1188.8 944.0M1244.5 774.0L1243.1 788.5L1244.5 805.9L1246.0 820.4L1250.3 834.9L1259.0 846.5L1270.6 858.1L1276.4 865.4L1286.6 875.5L1299.6 887.1L1308.3 895.8L1314.1 907.4L1324.3 920.5L1322.8 927.7L1311.2 933.5L1299.6 937.9L1293.8 944.0M1257.6 774.0L1260.5 785.6L1263.4 800.1L1267.7 811.7L1276.4 819.0L1290.9 823.3L1302.5 826.2L1314.1 834.9L1328.6 840.1L1337.3 836.4L1346.0 834.9"/>
</g>
</g>
<rect x="100.1" y="134.8" width="1245.9" height="807.9" fill="none" stroke="#000" stroke-width="1.6"/>
<g opacity="0.995">
<text x="700" y="37.4" font-size="29.8" text-anchor="middle" textLength="115.5" lengthAdjust="spacingAndGlyphs" font-weight="bold">SLAPIS</text>
<text x="110.5" y="122.9" font-size="22" textLength="359" lengthAdjust="spacingAndGlyphs">VALID: MON, 06 OCT 2025 21 UTC</text>
<text x="582.3" y="122.9" font-size="22" textLength="280" lengthAdjust="spacingAndGlyphs">T= +09hr WRF-GFS-4.0km</text>
<text x="1153.2" y="122.9" font-size="22" textLength="182.5" lengthAdjust="spacingAndGlyphs">Init: Mon, 12 UTC</text>
<text x="146.6" y="970.3" font-size="22" text-anchor="middle" textLength="45" lengthAdjust="spacingAndGlyphs">6°W</text>
<text x="303.2" y="970.3" font-size="22" text-anchor="middle" textLength="45" lengthAdjust="spacingAndGlyphs">3°W</text>
<text x="459.7" y="970.3" font-size="22" text-anchor="middle" textLength="23" lengthAdjust="spacingAndGlyphs">0°</text>
<text x="616.3" y="970.3" font-size="22" text-anchor="middle" textLength="37" lengthAdjust="spacingAndGlyphs">3°E</text>
<text x="772.9" y="970.3" font-size="22" text-anchor="middle" textLength="37" lengthAdjust="spacingAndGlyphs">6°E</text>
<text x="929.4" y="970.3" font-size="22" text-anchor="middle" textLength="37" lengthAdjust="spacingAndGlyphs">9°E</text>
<text x="1086.0" y="970.3" font-size="22" text-anchor="middle" textLength="48.5" lengthAdjust="spacingAndGlyphs">12°E</text>
<text x="1242.5" y="970.3" font-size="22" text-anchor="middle" textLength="48.5" lengthAdjust="spacingAndGlyphs">15°E</text>
<text x="89.5" y="245.0" font-size="22" text-anchor="end" textLength="54" lengthAdjust="spacingAndGlyphs">22°N</text>
<text x="89.5" y="349.3" font-size="22" text-anchor="end" textLength="54" lengthAdjust="spacingAndGlyphs">20°N</text>
<text x="89.5" y="453.7" font-size="22" text-anchor="end" textLength="54" lengthAdjust="spacingAndGlyphs">18°N</text>
<text x="89.5" y="558.0" font-size="22" text-anchor="end" textLength="54" lengthAdjust="spacingAndGlyphs">16°N</text>
<text x="89.5" y="662.4" font-size="22" text-anchor="end" textLength="54" lengthAdjust="spacingAndGlyphs">14°N</text>
<text x="89.5" y="766.7" font-size="22" text-anchor="end" textLength="54" lengthAdjust="spacingAndGlyphs">12°N</text>
<text x="89.5" y="871.0" font-size="22" text-anchor="end" textLength="54" lengthAdjust="spacingAndGlyphs">10°N</text>
<g shape-rendering="crispEdges">
<rect x="24.80" y="1115.6" width="56.31" height="70.0" fill="#000080"/>
<rect x="80.61" y="1115.6" width="56.31" height="70.0" fill="#0000c8"/>
<rect x="136.42" y="1115.6" width="56.31" height="70.0" fill="#1464d2"/>
<rect x="192.22" y="1115.6" width="56.31" height="70.0" fill="#2882f0"/>
<rect x="248.03" y="1115.6" width="56.31" height="70.0" fill="#50a5f5"/>
<rect x="303.84" y="1115.6" width="56.31" height="70.0" fill="#78b9fa"/>
<rect x="359.65" y="1115.6" width="56.31" height="70.0" fill="#96d2fa"/>
<rect x="415.46" y="1115.6" width="56.31" height="70.0" fill="#b4f0fa"/>
<rect x="471.26" y="1115.6" width="56.31" height="70.0" fill="#bef9b4"/>
<rect x="527.07" y="1115.6" width="56.31" height="70.0" fill="#00d278"/>
<rect x="582.88" y="1115.6" width="56.31" height="70.0" fill="#00aa00"/>
<rect x="638.69" y="1115.6" width="56.31" height="70.0" fill="#7ccf00"/>
<rect x="694.50" y="1115.6" width="56.31" height="70.0" fill="#cfe700"/>
<rect x="750.30" y="1115.6" width="56.31" height="70.0" fill="#ffff28"/>
<rect x="806.11" y="1115.6" width="56.31" height="70.0" fill="#ffcf00"/>
<rect x="861.92" y="1115.6" width="56.31" height="70.0" fill="#ff9f00"/>
<rect x="917.73" y="1115.6" width="56.31" height="70.0" fill="#ff0000"/>
<rect x="973.54" y="1115.6" width="56.31" height="70.0" fill="#cd0000"/>
<rect x="1029.34" y="1115.6" width="56.31" height="70.0" fill="#9b0000"/>
<rect x="1085.15" y="1115.6" width="56.31" height="70.0" fill="#820000"/>
<rect x="1140.96" y="1115.6" width="56.31" height="70.0" fill="#690000"/>
<rect x="1196.77" y="1115.6" width="56.31" height="70.0" fill="#ff82ff"/>
<rect x="1252.58" y="1115.6" width="56.31" height="70.0" fill="#ff00ff"/>
<rect x="1308.38" y="1115.6" width="56.31" height="70.0" fill="#9b009b"/>
<rect x="1364.19" y="1115.6" width="56.31" height="70.0" fill="#8264ff"/>
</g>
<rect x="24.8" y="1115.6" width="1395.2" height="70.0" fill="none" stroke="#000" stroke-width="1.6"/>
<path d="M24.80 1185.6v7.8M80.61 1185.6v7.8M136.42 1185.6v7.8M192.22 1185.6v7.8M248.03 1185.6v7.8M303.84 1185.6v7.8M359.65 1185.6v7.8M415.46 1185.6v7.8M471.26 1185.6v7.8M527.07 1185.6v7.8M582.88 1185.6v7.8M638.69 1185.6v7.8M694.50 1185.6v7.8M750.30 1185.6v7.8M806.11 1185.6v7.8M861.92 1185.6v7.8M917.73 1185.6v7.8M973.54 1185.6v7.8M1029.34 1185.6v7.8M1085.15 1185.6v7.8M1140.96 1185.6v7.8M1196.77 1185.6v7.8M1252.58 1185.6v7.8M1308.38 1185.6v7.8M1364.19 1185.6v7.8M1420.00 1185.6v7.8" stroke="#000" stroke-width="1.6" fill="none"/>
<text x="25.1" y="1216.9" font-size="22" text-anchor="middle" textLength="21.5" lengthAdjust="spacingAndGlyphs">-4</text>
<text x="80.9" y="1216.9" font-size="22" text-anchor="middle" textLength="21.5" lengthAdjust="spacingAndGlyphs">-2</text>
<text x="136.7" y="1216.9" font-size="22" text-anchor="middle" textLength="13.5" lengthAdjust="spacingAndGlyphs">0</text>
<text x="192.5" y="1216.9" font-size="22" text-anchor="middle" textLength="13.5" lengthAdjust="spacingAndGlyphs">2</text>
<text x="248.3" y="1216.9" font-size="22" text-anchor="middle" textLength="13.5" lengthAdjust="spacingAndGlyphs">4</text>
<text x="304.1" y="1216.9" font-size="22" text-anchor="middle" textLength="13.5" lengthAdjust="spacingAndGlyphs">6</text>
<text x="359.9" y="1216.9" font-size="22" text-anchor="middle" textLength="13.5" lengthAdjust="spacingAndGlyphs">8</text>
<text x="415.8" y="1216.9" font-size="22" text-anchor="middle" textLength="27" lengthAdjust="spacingAndGlyphs">10</text>
<text x="471.6" y="1216.9" font-size="22" text-anchor="middle" textLength="27" lengthAdjust="spacingAndGlyphs">12</text>
<text x="527.4" y="1216.9" font-size="22" text-anchor="middle" textLength="27" lengthAdjust="spacingAndGlyphs">14</text>
<text x="583.2" y="1216.9" font-size="22" text-anchor="middle" textLength="27" lengthAdjust="spacingAndGlyphs">16</text>
<text x="639.0" y="1216.9" font-size="22" text-anchor="middle" textLength="27" lengthAdjust="spacingAndGlyphs">18</text>
<text x="694.8" y="1216.9" font-size="22" text-anchor="middle" textLength="27" lengthAdjust="spacingAndGlyphs">20</text>
<text x="750.6" y="1216.9" font-size="22" text-anchor="middle" textLength="27" lengthAdjust="spacingAndGlyphs">22</text>
<text x="806.4" y="1216.9" font-size="22" text-anchor="middle" textLength="27" lengthAdjust="spacingAndGlyphs">24</text>
<text x="862.2" y="1216.9" font-size="22" text-anchor="middle" textLength="27" lengthAdjust="spacingAndGlyphs">26</text>
<text x="918.0" y="1216.9" font-size="22" text-anchor="middle" textLength="27" lengthAdjust="spacingAndGlyphs">28</text>
<text x="973.8" y="1216.9" font-size="22" text-anchor="middle" textLength="27" lengthAdjust="spacingAndGlyphs">30</text>
<text x="1029.6" y="1216.9" font-size="22" text-anchor="middle" textLength="27" lengthAdjust="spacingAndGlyphs">32</text>
<text x="1085.5" y="1216.9" font-size="22" text-anchor="middle" textLength="27" lengthAdjust="spacingAndGlyphs">34</text>
<text x="1141.3" y="1216.9" font-size="22" text-anchor="middle" textLength="27" lengthAdjust="spacingAndGlyphs">36</text>
<text x="1197.1" y="1216.9" font-size="22" text-anchor="middle" textLength="27" lengthAdjust="spacingAndGlyphs">38</text>
<text x="1252.9" y="1216.9" font-size="22" text-anchor="middle" textLength="27" lengthAdjust="spacingAndGlyphs">40</text>
<text x="1308.7" y="1216.9" font-size="22" text-anchor="middle" textLength="27" lengthAdjust="spacingAndGlyphs">42</text>
<text x="1364.5" y="1216.9" font-size="22" text-anchor="middle" textLength="27" lengthAdjust="spacingAndGlyphs">44</text>
<text x="1420.3" y="1216.9" font-size="22" text-anchor="middle" textLength="27" lengthAdjust="spacingAndGlyphs">46</text>
<text x="722.5" y="1244.5" font-size="22" text-anchor="middle" textLength="96.5" lengthAdjust="spacingAndGlyphs">T2m (°C)</text>
</g>
</svg>
</body>
</html>
